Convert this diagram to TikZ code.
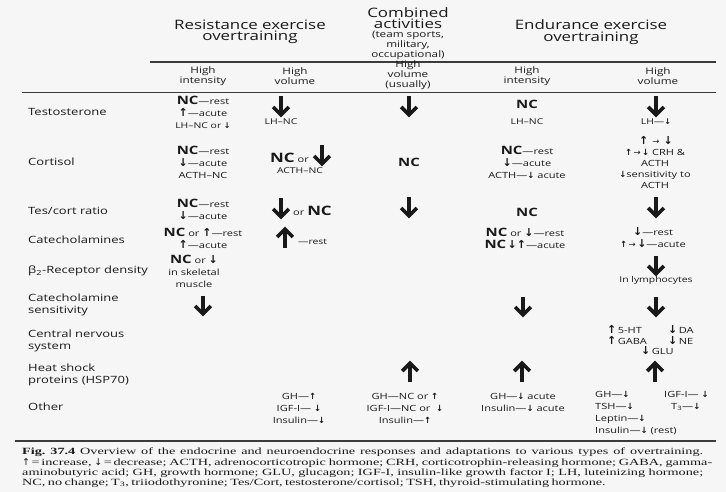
\documentclass[tikz,border=0pt]{standalone}
\usepackage{fontspec}
\setmainfont{Liberation Serif}
\newfontfamily\tabf[FakeStretch=1.3]{Open Sans}
\newfontfamily\capf[FakeStretch=1.5]{Liberation Serif}
\newfontfamily\arrf{DejaVu Sans}
\definecolor{ink}{RGB}{25,25,25}
\definecolor{paper}{RGB}{246,246,246}
\newcommand\NC{{\fontsize{11.5}{12}\selectfont\bfseries NC}}
\newcommand\mup{{\arrf\bfseries\fontsize{11}{12}\selectfont ↑}}
\newcommand\mdn{{\arrf\bfseries\fontsize{11}{12}\selectfont ↓}}
\newcommand\smup{{\arrf\bfseries ↑}}
\newcommand\smdn{{\arrf\bfseries ↓}}
\newcommand\smrt{{\arrf →}}
\newcommand\capup{{\arrf ↑}}
\newcommand\capdn{{\arrf ↓}}
\begin{document}
\frenchspacing
\begin{tikzpicture}[x=1pt,y=-1pt,
  every node/.style={inner sep=0pt, text=ink},
  head/.style={align=center, font=\fontsize{13}{11.5}\selectfont\tabf},
  headsmall/.style={align=center, font=\fontsize{9}{10}\selectfont\tabf},
  sub/.style={align=center, font=\fontsize{9}{10}\selectfont\tabf},
  lab/.style={anchor=west, align=left, font=\fontsize{10}{11.5}\selectfont\tabf},
  cell/.style={align=center, font=\fontsize{8.5}{12}\selectfont\tabf},
  small/.style={align=center, font=\fontsize{8}{11}\selectfont\tabf},
  captxt/.style={anchor=west, font=\fontsize{9.5}{10.5}\selectfont\capf},
  bigdn/.pic={\draw[ink, line width=3.6pt] (0,-9.5)--(0,6);
              \draw[ink, line width=3.6pt, miter limit=20] (-7.8,1)--(0,8.8)--(7.8,1);},
  bigup/.pic={\draw[ink, line width=3.6pt] (0,9.5)--(0,-6);
              \draw[ink, line width=3.6pt, miter limit=20] (-7.8,-1)--(0,-8.8)--(7.8,-1);}
]
\fill[paper] (0,0) rectangle (726,492);
\useasboundingbox (0,0) rectangle (726,492);

% headers
\node[head] (hres) at (250,32) {Resistance exercise\\overtraining};
\node[head] (hcomb1) at (408,18) {Combined\\activities};
\node[headsmall] (hcomb2) at (408,45) {(team sports,\\military,\\occupational)};
\node[head] (hend) at (591,32) {Endurance exercise\\overtraining};
\draw[ink!85, line width=1.2pt] (150,62) -- (716,62);
\node[sub] (s1) at (203,76) {High\\intensity};
\node[sub] (s2) at (295,76) {High\\volume};
\node[sub] (s3) at (408,75) {High\\volume\\(usually)};
\node[sub] (s4) at (527,76) {High\\intensity};
\node[sub] (s5) at (658,76) {High\\volume};
\draw[ink!85, line width=0.9pt] (22,92) -- (716,92);

% row labels
\node[lab] (l1) at (28,112) {Testosterone};
\node[lab] (l2) at (28,162) {Cortisol};
\node[lab] (l3) at (28,211) {Tes/cort ratio};
\node[lab] (l4) at (28,240) {Catecholamines};
\node[lab] (l5) at (28,271) {β\textsubscript{2}-Receptor density};
\node[lab] (l6) at (28,305) {Catecholamine\\sensitivity};
\node[lab] (l7) at (28,341) {Central nervous\\system};
\node[lab] (l8) at (28,375) {Heat shock\\proteins (HSP70)};
\node[lab] (l9) at (28,407) {Other};

% Testosterone
\node[cell] (t1) at (203,112) {\NC—rest\\\mup—acute\\{\fontsize{8}{12}\selectfont LH–NC or \smdn}};
\pic (t2a) at (281,106) {bigdn};
\node[small] (t2b) at (281,122) {LH–NC};
\pic (t3) at (409,106) {bigdn};
\node[cell] (t4a) at (527,104) {\NC};
\node[small] (t4b) at (527,122) {LH–NC};
\pic (t5a) at (656,106) {bigdn};
\node[small] (t5b) at (656,122) {LH—\smdn};

% Cortisol
\node[cell] (c1) at (203,162) {\NC—rest\\\mdn—acute\\ACTH–NC};
\node[anchor=base east, font=\fontsize{8.5}{12}\selectfont\tabf] (c2a) at (309,163) {{\fontsize{13}{12}\selectfont\bfseries NC} or};
\pic (c2b) at (322,155) {bigdn};
\node[small] (c2c) at (300,171) {ACTH–NC};
\node[cell] (c3) at (409,162) {\NC};
\node[cell] (c4) at (527,162) {\NC—rest\\\mdn—acute\\ACTH—\smdn\ acute};
\node[cell] (c5a) at (656,140) {\mup\hspace{4pt}\smrt\hspace{4pt}\mdn};
\node[align=center, font=\fontsize{8.5}{11}\selectfont\tabf] (c5b) at (655,169) {\smup\,\smrt\,\smdn\ CRH \&\\ACTH\\\smdn sensitivity to\\ACTH};

% Tes/cort ratio
\node[cell] (tc1) at (203,209) {\NC—rest\\\mdn—acute};
\pic (tc2a) at (281,208) {bigdn};
\node[anchor=base west, font=\fontsize{8.5}{12}\selectfont\tabf] (tc2b) at (293,215) {or {\fontsize{13}{12}\selectfont\bfseries NC}};
\pic (tc3) at (409,207) {bigdn};
\node[cell] (tc4) at (527,212) {\NC};
\pic (tc5) at (656,207) {bigdn};

% Catecholamines
\node[cell] (ca1) at (203,238) {\NC\ or \mup—rest\\\mup—acute};
\pic (ca2a) at (285,238) {bigup};
\node[anchor=base west, font=\fontsize{8}{12}\selectfont\tabf] (ca2b) at (298,244) {—rest};
\node[cell] (ca4) at (525,238) {\NC\ or \mdn—rest\\\NC\,\mdn\mup—acute};
\node[cell] (ca5) at (653,238) {\mdn—rest\\\smup\,\smrt\,\mdn—acute};

% beta2 receptor density
\node[cell] (b1) at (194,271) {\NC\ or \mdn\\in skeletal\\muscle};
\pic (b5a) at (656,265) {bigdn};
\node[small] (b5b) at (656,280) {In lymphocytes};

% Catecholamine sensitivity
\pic (cs1) at (203,305) {bigdn};
\pic (cs4) at (523,306) {bigdn};
\pic (cs5) at (656,306) {bigdn};

% CNS
\node[anchor=west, align=left, font=\fontsize{8.5}{11}\selectfont\tabf] (n5a) at (607,335) {\mup\,5-HT\\\mup\,GABA};
\node[anchor=west, align=left, font=\fontsize{8.5}{11}\selectfont\tabf] (n5b) at (668,335) {\mdn\,DA\\\mdn\,NE};
\node[anchor=west, font=\fontsize{8.5}{11}\selectfont\tabf] (n5c) at (641,351) {\mdn\,GLU};

% HSP70
\pic (h3) at (410,372) {bigup};
\pic (h4) at (522,372) {bigup};
\pic (h5) at (655,372) {bigup};

% Other
\node[align=center, font=\fontsize{8.5}{12}\selectfont\tabf] (o2) at (299,408) {GH—\smup\\IGF-I— \smdn\\Insulin—\smdn};
\node[align=center, font=\fontsize{8.5}{12}\selectfont\tabf] (o3) at (405,408) {GH—NC or \smup\\IGF-I—NC or \ \smdn\\Insulin—\smup};
\node[align=center, font=\fontsize{8.5}{12}\selectfont\tabf] (o4) at (523,402) {GH—\smdn\ acute\\Insulin—\smdn\ acute};
\node[anchor=north west, align=left, font=\fontsize{8.5}{12}\selectfont\tabf] (o5a) at (595,391) {GH—\smdn\\TSH—\smdn\\Leptin—\smdn\\Insulin—\smdn\ (rest)};
\node[anchor=north west, align=left, font=\fontsize{8.5}{12}\selectfont\tabf] (o5b) at (664,391) {IGF-I— \smdn\\\hspace{7pt}T\textsubscript{3}—\smdn};

\draw[ink!85, line width=2pt] (15,441) -- (716,441);

% caption
\node[captxt] (cap1) at (22,452) {\makebox[681pt][s]{\textbf{Fig. 37.4} Overview of the endocrine and neuroendocrine responses and adaptations to various types of overtraining.}};
\node[captxt] (cap2) at (22,463) {\makebox[690pt][s]{\capup\,=\,increase, \capdn\,=\,decrease; ACTH, adrenocorticotropic hormone; CRH, corticotrophin-releasing hormone; GABA, gamma-}};
\node[captxt] (cap3) at (22,473) {\makebox[681pt][s]{aminobutyric acid; GH, growth hormone; GLU, glucagon; IGF-I, insulin-like growth factor I; LH, luteinizing hormone;}};
\node[captxt] (cap4) at (22,483) {\makebox[557pt][s]{NC, no change; T\textsubscript{3}, triiodothyronine; Tes/Cort, testosterone/cortisol; TSH, thyroid-stimulating hormone.}};
\end{tikzpicture}
\end{document}
